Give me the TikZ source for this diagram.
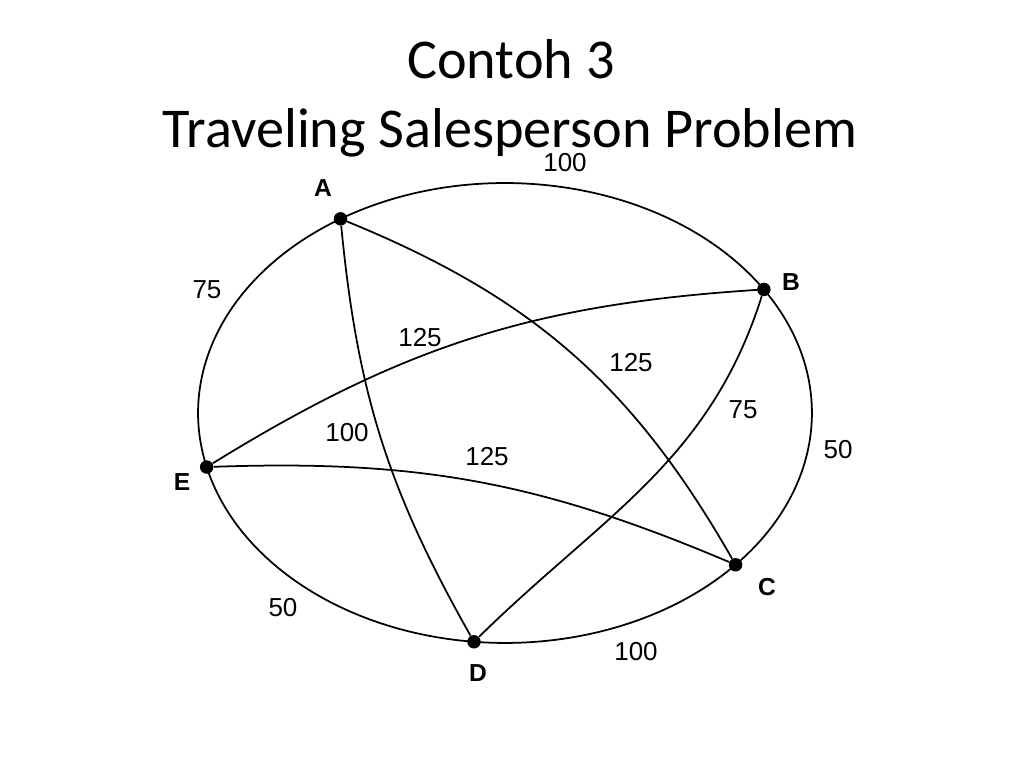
\documentclass[tikz,border=0pt]{standalone}
\usepackage{fontspec}
\setmainfont{Carlito}
\newfontfamily\graphfont{Liberation Sans}
\usetikzlibrary{positioning}
\tikzset{
  % styles
  vertex/.style={
    circle,
    fill=black,
    inner sep=0pt,
    minimum size=0.27cm,
  },
  city/.style={
    font=\graphfont\bfseries\fontsize{14}{17}\selectfont,
    inner sep=0pt,
  },
  weight/.style={
    font=\graphfont\fontsize{14.8}{17}\selectfont,
    inner sep=0pt,
  },
  road/.style={
    line width=1pt,
  },
  heading/.style={
    font=\fontsize{32}{38}\selectfont,
    anchor=base,
    inner sep=0pt,
  }
}

\begin{document}
\begin{tikzpicture}[x=0.02cm,y=0.02cm]
  \useasboundingbox (0,0) rectangle (1024,768);

  % title
  \node [heading] (t1) at (511,689) {Contoh 3};
  \node [heading] (t2) at (510,620.5) {Traveling Salesperson Problem};

  % cities on the ring
  \coordinate (mid) at (505,355);
  \path (mid) ++(122.4:6.14cm and 4.6cm) node [vertex] (A) {};
  \path (mid) ++(32.5:6.14cm and 4.6cm)  node [vertex] (B) {};
  \path (mid) ++(-41.3:6.14cm and 4.6cm) node [vertex] (C) {};
  \path (mid) ++(264.2:6.14cm and 4.6cm) node [vertex] (D) {};
  \path (mid) ++(193.6:6.14cm and 4.6cm) node [vertex] (E) {};

  \node [city] (lA) at (323,580) {A};
  \node [city] (lB) at (791,486) {B};
  \node [city] (lC) at (767,181) {C};
  \node [city] (lD) at (478,95)  {D};
  \node [city] (lE) at (182,286) {E};

  % outer ring
  \draw [road] (A.center) arc [start angle=122.4, end angle=32.5,  x radius=6.14cm, y radius=4.6cm];
  \draw [road] (B.center) arc [start angle=32.5,  end angle=-41.3, x radius=6.14cm, y radius=4.6cm];
  \draw [road] (C.center) arc [start angle=-41.3, end angle=-95.8, x radius=6.14cm, y radius=4.6cm];
  \draw [road] (D.center) arc [start angle=264.2, end angle=193.6, x radius=6.14cm, y radius=4.6cm];
  \draw [road] (E.center) arc [start angle=193.6, end angle=122.4, x radius=6.14cm, y radius=4.6cm];

  % inner roads
  \draw [road] (A) to [bend right=12] (D);
  \draw [road] (A) to [bend left=19]  (C);
  \draw [road] (B) to [bend right=14] (E);
  \draw [road] (E) to [bend left=12.5] (C);
  \draw [road] (B) to [out=252.5, in=44.5] (D);

  % distances
  \node [weight] (wAB) at (565,605) {100};
  \node [weight] (wBC) at (838,318) {50};
  \node [weight] (wCD) at (636,116) {100};
  \node [weight] (wDE) at (283,160) {50};
  \node [weight] (wEA) at (207,478) {75};
  \node [weight] (wBE) at (420,430) {125};
  \node [weight] (wAC) at (631,405) {125};
  \node [weight] (wBD) at (743,358) {75};
  \node [weight] (wAD) at (347,335) {100};
  \node [weight] (wEC) at (487,311) {125};
\end{tikzpicture}
\end{document}
